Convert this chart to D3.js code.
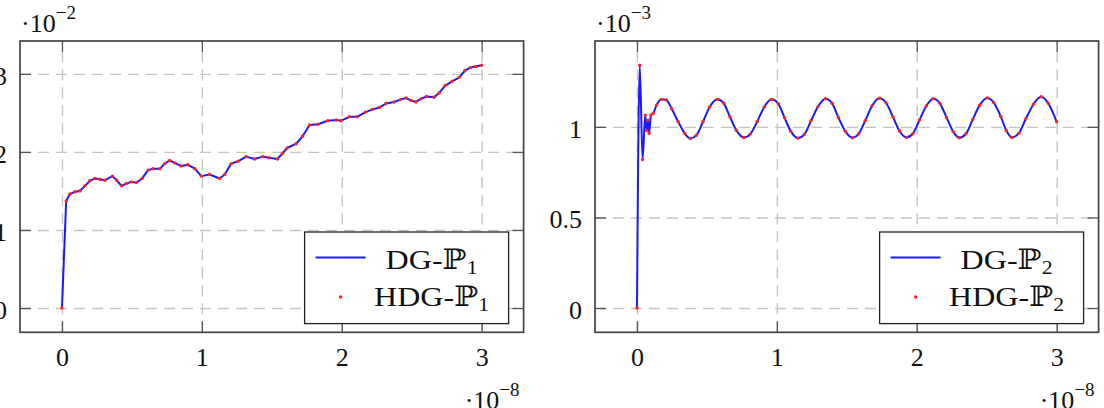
<!DOCTYPE html>
<html>
<head>
<meta charset="utf-8">
<script src="https://cdn.jsdelivr.net/npm/d3@7"></script>
<style>
  body { margin: 0; background: #fff; }
  text { font-family: "Liberation Serif", "DejaVu Serif", serif; fill: #111; }
</style>
</head>
<body>
<script>
// tick values for both panels
const timeTicks = [0, 1, 2, 3];          // x, units of 1e-8
const p1Ticks = [0, 1, 2, 3];            // left y, units of 1e-2
const p2Ticks = [0, 0.5, 1];             // right y, units of 1e-3

// DG-P1 error vs time: [t (1e-8), err (1e-2)]
const dgP1 = [
    [0, 0], [0.03, 1.37], [0.057, 1.46], [0.093, 1.49], [0.128, 1.50], [0.164, 1.565],
    [0.2, 1.63], [0.235, 1.66], [0.27, 1.65], [0.307, 1.637], [0.36, 1.69], [0.39, 1.64],
    [0.425, 1.565], [0.46, 1.595], [0.497, 1.616], [0.533, 1.608], [0.573, 1.66], [0.616, 1.767],
    [0.65, 1.785], [0.70, 1.785], [0.735, 1.85], [0.77, 1.89], [0.806, 1.86], [0.85, 1.82],
    [0.90, 1.835], [0.95, 1.785], [0.996, 1.69], [1.055, 1.71], [1.127, 1.66], [1.163, 1.71],
    [1.21, 1.85], [1.258, 1.88], [1.317, 1.94], [1.377, 1.91], [1.436, 1.94], [1.48, 1.925],
    [1.54, 1.91], [1.576, 1.98], [1.61, 2.05], [1.674, 2.105], [1.72, 2.20], [1.77, 2.345],
    [1.83, 2.355], [1.90, 2.40], [1.96, 2.41], [1.995, 2.40], [2.054, 2.45], [2.11, 2.45],
    [2.17, 2.51], [2.22, 2.545], [2.27, 2.57], [2.316, 2.62], [2.375, 2.64], [2.42, 2.67],
    [2.46, 2.69], [2.494, 2.66], [2.53, 2.64], [2.566, 2.68], [2.606, 2.71], [2.66, 2.70],
    [2.696, 2.755], [2.74, 2.85], [2.79, 2.905], [2.84, 2.955], [2.88, 3.04], [2.92, 3.08],
    [2.958, 3.095], [3.0, 3.11]
];
// HDG-P1 sits right on top of DG-P1 at this scale
const hdgP1 = dgP1;

// DG-P2 error vs time: [t (1e-8), err (1e-3)]
const dgP2 = [
    [0, 0], [0.02, 1.34], [0.04, 0.82], [0.059, 1.065], [0.069, 0.98], [0.08, 1.037],
    [0.087, 0.965], [0.1, 1.065], [0.116, 1.074], [0.14, 1.12], [0.175, 1.152], [0.21, 1.148],
    [0.248, 1.10], [0.295, 1.028], [0.342, 0.963], [0.383, 0.936], [0.425, 0.954], [0.472, 1.028],
    [0.52, 1.11], [0.575, 1.152], [0.62, 1.13], [0.665, 1.055], [0.71, 0.982], [0.765, 0.941],
    [0.81, 0.96], [0.86, 1.03], [0.91, 1.11], [0.963, 1.152], [1.01, 1.128], [1.055, 1.05],
    [1.10, 0.975], [1.15, 0.938], [1.198, 0.96], [1.245, 1.035], [1.295, 1.113], [1.348, 1.155],
    [1.395, 1.13], [1.44, 1.052], [1.49, 0.975], [1.54, 0.94], [1.585, 0.962], [1.632, 1.035],
    [1.68, 1.115], [1.733, 1.158], [1.78, 1.133], [1.83, 1.055], [1.877, 0.977], [1.926, 0.942],
    [1.972, 0.962], [2.02, 1.038], [2.068, 1.115], [2.118, 1.155], [2.165, 1.13], [2.213, 1.052],
    [2.26, 0.975], [2.304, 0.94], [2.352, 0.962], [2.4, 1.04], [2.45, 1.12], [2.503, 1.16],
    [2.55, 1.135], [2.6, 1.058], [2.64, 0.98], [2.68, 0.942], [2.73, 0.965], [2.78, 1.045],
    [2.835, 1.125], [2.889, 1.166], [2.94, 1.13], [3.0, 1.028]
];
const hdgP2 = dgP2;

const width = 1104;
const height = 408;
const fontSize = 26;
const fmt = d3.format("~g");   // 0, 0.5, 1 not 0.0, 1.0

const svg = d3.select("body")
    .append("svg")
    .attr("width", width)
    .attr("height", height);

// pgfplots style: enlarge limits by 10% of the data range
function padded(vals) {
    const [lo, hi] = d3.extent(vals);
    const pad = (hi - lo) * 0.1;
    return [lo - pad, hi + pad];
}

// draws "·10^exp" as real text
function powerLabel(g, x, y, exp, anchor) {
    const t = g.append("text")
        .attr("x", x)
        .attr("y", y)
        .attr("text-anchor", anchor)
        .style("font-size", fontSize + "px");
    t.append("tspan").text("·10");
    t.append("tspan")
        .attr("dy", -13)
        .style("font-size", "19px")
        .text("\u2212" + exp);
}

function drawPanel(cfg) {
    const left = cfg.left, top = 41, w = 503.6, h = 291.3;
    const right = left + w, bottom = top + h;
    const g = svg.append("g");

    const x = d3.scaleLinear()
        .domain(padded(cfg.line.map(d => d[0])))
        .range([left, right]);
    const y = d3.scaleLinear()
        .domain(padded(cfg.line.map(d => d[1])))
        .range([bottom, top]);

    // dashed grid
    const grid = g.append("g").attr("class", "grid");
    grid.append("g")
        .attr("transform", `translate(0,${bottom})`)
        .call(d3.axisBottom(x).tickValues(timeTicks).tickSize(-h).tickFormat(""));
    grid.append("g")
        .attr("transform", `translate(${left},0)`)
        .call(d3.axisLeft(y).tickValues(cfg.yTicks).tickSize(-w).tickFormat(""));
    grid.selectAll(".domain").remove();
    grid.selectAll("line")
        .attr("stroke", "#c4c4c4")
        .attr("stroke-width", 1.4)
        .attr("stroke-dasharray", "11,7");

    // the curve and the marks on top of it
    const line = d3.line()
        .x(d => x(d[0]))
        .y(d => y(d[1]))
        .curve(cfg.curve);
    g.append("path")
        .datum(cfg.line)
        .attr("fill", "none")
        .attr("stroke", "#1a1aff")
        .attr("stroke-width", 2)
        .attr("stroke-linejoin", "round")
        .attr("d", line);
    g.append("g")
        .selectAll("circle")
        .data(cfg.marks)
        .enter()
        .append("circle")
        .attr("cx", d => x(d[0]))
        .attr("cy", d => y(d[1]))
        .attr("r", 1.7)
        .attr("fill", "#ff2020");

    // inner ticks on all four sides
    const ticks = g.append("g").attr("class", "frame-ticks");
    ticks.append("g").attr("transform", `translate(0,${bottom})`)
        .call(d3.axisBottom(x).tickValues(timeTicks).tickSize(-11).tickFormat(""));
    ticks.append("g").attr("transform", `translate(0,${top})`)
        .call(d3.axisTop(x).tickValues(timeTicks).tickSize(-11).tickFormat(""));
    ticks.append("g").attr("transform", `translate(${left},0)`)
        .call(d3.axisLeft(y).tickValues(cfg.yTicks).tickSize(-11).tickFormat(""));
    ticks.append("g").attr("transform", `translate(${right},0)`)
        .call(d3.axisRight(y).tickValues(cfg.yTicks).tickSize(-11).tickFormat(""));
    ticks.selectAll(".domain").remove();
    ticks.selectAll("line").attr("stroke", "#555").attr("stroke-width", 1.3);

    g.append("rect")
        .attr("x", left)
        .attr("y", top)
        .attr("width", w)
        .attr("height", h)
        .attr("fill", "none")
        .attr("stroke", "#444")
        .attr("stroke-width", 1.7);

    // tick labels
    const xLab = g.append("g")
        .attr("transform", `translate(0,${bottom})`)
        .call(d3.axisBottom(x).tickValues(timeTicks).tickSize(0).tickPadding(15).tickFormat(fmt));
    const yLab = g.append("g")
        .attr("transform", `translate(${left},0)`)
        .call(d3.axisLeft(y).tickValues(cfg.yTicks).tickSize(0).tickPadding(13).tickFormat(fmt));
    [xLab, yLab].forEach(a => {
        a.select(".domain").remove();
        a.selectAll("text")
            .attr("fill", "#111")
            .style("font-family", '"Liberation Serif", "DejaVu Serif", serif')
            .style("font-size", fontSize + "px");
    });
    yLab.selectAll("text").attr("dy", "0.4em");

    powerLabel(g, left + 1, 32, cfg.yExp, "start");
    powerLabel(g, right - 4, 408.5, 8, "end");

    // legend, bottom right corner
    const lw = 204, lh = 91.6;
    const lx = right - 15 - lw, ly = bottom - 8.7 - lh;
    const legend = g.append("g").attr("transform", `translate(${lx},${ly})`);
    legend.append("rect")
        .attr("width", lw)
        .attr("height", lh)
        .attr("fill", "#fff")
        .attr("stroke", "#222")
        .attr("stroke-width", 1.3);
    legend.append("line")
        .attr("x1", 11).attr("x2", 61)
        .attr("y1", 25.6).attr("y2", 25.6)
        .attr("stroke", "#1a1aff")
        .attr("stroke-width", 2);
    legend.append("circle")
        .attr("cx", 36).attr("cy", 65)
        .attr("r", 1.7)
        .attr("fill", "#ff2020");
    const textWidths = [92, 115];
    cfg.names.forEach((name, i) => {
        const t = legend.append("text")
            .attr("x", 127)
            .attr("y", i === 0 ? 36.6 : 74.3)
            .attr("text-anchor", "middle")
            .attr("textLength", textWidths[i])
            .attr("lengthAdjust", "spacingAndGlyphs")
            .style("font-size", "28px");
        t.append("tspan").text(name);
        t.append("tspan")
            .attr("dy", 5)
            .style("font-size", "19px")
            .text(cfg.sub);
    });
}

drawPanel({
    left: 20, line: dgP1, marks: hdgP1, yTicks: p1Ticks, yExp: 2,
    names: ["DG-\u2119", "HDG-\u2119"], sub: "1", curve: d3.curveLinear
});
drawPanel({
    left: 595, line: dgP2, marks: hdgP2, yTicks: p2Ticks, yExp: 3,
    names: ["DG-\u2119", "HDG-\u2119"], sub: "2", curve: d3.curveMonotoneX
});
</script>
</body>
</html>
